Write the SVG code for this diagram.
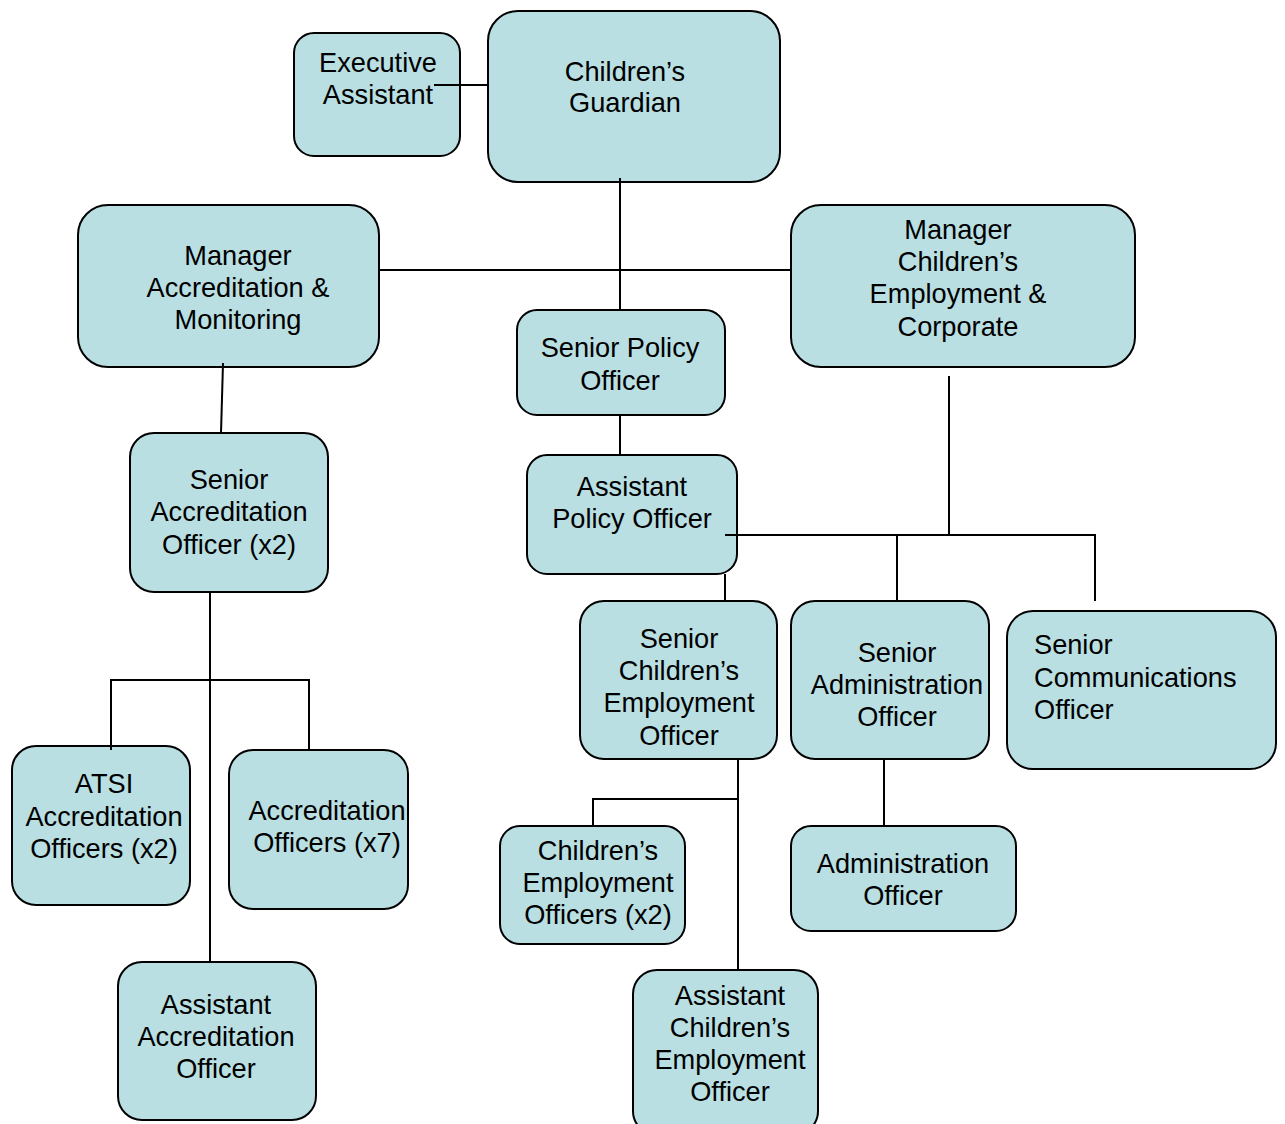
<svg xmlns="http://www.w3.org/2000/svg" width="1285" height="1124" viewBox="0 0 1285 1124">
<style>
.box{fill:#b9dfe3;stroke:#000;stroke-width:2}
.t{font-family:"Liberation Sans",Arial,sans-serif;font-size:27.2px;fill:#000;text-anchor:middle}
.l{text-anchor:start}
.c{fill:none;stroke:#000;stroke-width:2}
</style>
<rect width="1285" height="1124" fill="#fff"/>
<g id="executive-assistant"><rect class="box" x="294" y="33" width="166" height="123" rx="20"/><text class="t" x="378" y="72">Executive</text><text class="t" x="378" y="104">Assistant</text></g>
<g id="childrens-guardian"><rect class="box" x="488" y="11" width="292" height="171" rx="30"/><text class="t" x="625" y="81">Children’s</text><text class="t" x="625" y="112">Guardian</text></g>
<g id="manager-accreditation"><rect class="box" x="78" y="205" width="301" height="162" rx="30"/><text class="t" x="238" y="265">Manager</text><text class="t" x="238" y="297">Accreditation &amp;</text><text class="t" x="238" y="329">Monitoring</text></g>
<g id="manager-employment"><rect class="box" x="791" y="205" width="344" height="162" rx="30"/><text class="t" x="958" y="239">Manager</text><text class="t" x="958" y="271">Children’s</text><text class="t" x="958" y="303">Employment &amp;</text><text class="t" x="958" y="336">Corporate</text></g>
<g id="senior-policy-officer"><rect class="box" x="517" y="310" width="208" height="105" rx="20"/><text class="t" x="620" y="357">Senior Policy</text><text class="t" x="620" y="390">Officer</text></g>
<g id="assistant-policy-officer"><rect class="box" x="527" y="455" width="210" height="119" rx="20"/><text class="t" x="632" y="496">Assistant</text><text class="t" x="632" y="528">Policy Officer</text></g>
<g id="senior-accreditation-officer"><rect class="box" x="130" y="433" width="198" height="159" rx="24"/><text class="t" x="229" y="489">Senior</text><text class="t" x="229" y="521">Accreditation</text><text class="t" x="229" y="554">Officer (x2)</text></g>
<g id="senior-childrens-employment-officer"><rect class="box" x="580" y="601" width="197" height="158" rx="24"/><text class="t" x="679" y="648">Senior</text><text class="t" x="679" y="680">Children’s</text><text class="t" x="679" y="712">Employment</text><text class="t" x="679" y="745">Officer</text></g>
<g id="senior-administration-officer"><rect class="box" x="791" y="601" width="198" height="158" rx="24"/><text class="t" x="897" y="662">Senior</text><text class="t" x="897" y="694">Administration</text><text class="t" x="897" y="726">Officer</text></g>
<g id="senior-communications-officer"><rect class="box" x="1007" y="611" width="269" height="158" rx="26"/><text class="t l" x="1034" y="654">Senior</text><text class="t l" x="1034" y="687">Communications</text><text class="t l" x="1034" y="719">Officer</text></g>
<g id="atsi-accreditation-officers"><rect class="box" x="12" y="746" width="178" height="159" rx="24"/><text class="t" x="104" y="793">ATSI</text><text class="t" x="104" y="826">Accreditation</text><text class="t" x="104" y="858">Officers (x2)</text></g>
<g id="accreditation-officers"><rect class="box" x="229" y="750" width="179" height="159" rx="24"/><text class="t" x="327" y="820">Accreditation</text><text class="t" x="327" y="852">Officers (x7)</text></g>
<g id="childrens-employment-officers"><rect class="box" x="500" y="826" width="185" height="118" rx="20"/><text class="t" x="598" y="860">Children’s</text><text class="t" x="598" y="892">Employment</text><text class="t" x="598" y="924">Officers (x2)</text></g>
<g id="administration-officer"><rect class="box" x="791" y="826" width="225" height="105" rx="20"/><text class="t" x="903" y="873">Administration</text><text class="t" x="903" y="905">Officer</text></g>
<g id="assistant-accreditation-officer"><rect class="box" x="118" y="962" width="198" height="158" rx="24"/><text class="t" x="216" y="1014">Assistant</text><text class="t" x="216" y="1046">Accreditation</text><text class="t" x="216" y="1078">Officer</text></g>
<g id="assistant-childrens-employment-officer"><rect class="box" x="633" y="970" width="185" height="165" rx="24"/><text class="t" x="730" y="1005">Assistant</text><text class="t" x="730" y="1037">Children’s</text><text class="t" x="730" y="1069">Employment</text><text class="t" x="730" y="1101">Officer</text></g>
<g id="connectors">
<path class="c" d="M434 85H488"/>
<path class="c" d="M620 178V310"/>
<path class="c" d="M379 270H791"/>
<path class="c" d="M223 363L221 433"/>
<path class="c" d="M620 415V455"/>
<path class="c" d="M949 376V535"/>
<path class="c" d="M725 535H1095V601"/>
<path class="c" d="M897 535V601"/>
<path class="c" d="M725 574V601"/>
<path class="c" d="M210 592V962"/>
<path class="c" d="M111 750V680H309V750"/>
<path class="c" d="M738 759V970"/>
<path class="c" d="M738 799H593V826"/>
<path class="c" d="M884 759V826"/>
</g>
</svg>
